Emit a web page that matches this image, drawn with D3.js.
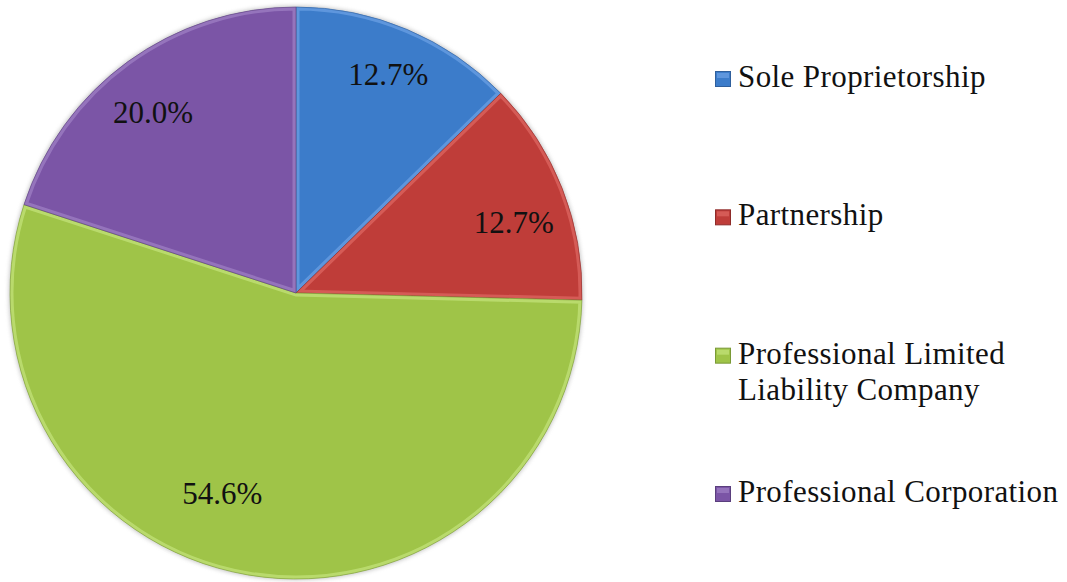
<!DOCTYPE html>
<html>
<head>
<meta charset="utf-8">
<script src="https://cdn.jsdelivr.net/npm/d3@7"></script>
<style>
  html, body { margin: 0; padding: 0; background: #fff; }
</style>
</head>
<body>
<div id="chart"></div>
<script>
const categories = ["Sole Proprietorship", "Partnership", "Professional Limited Liability Company", "Professional Corporation"];
const legendLines = [["Sole Proprietorship"], ["Partnership"], ["Professional Limited", "Liability Company"], ["Professional Corporation"]];
const values = [12.7, 12.7, 54.6, 20.0];
const valueLabels = ["12.7%", "12.7%", "54.6%", "20.0%"];

const width = 1067;
const height = 582;
const fillColors = ["#3c7cca", "#bf3d39", "#9fc448", "#7b55a6"];
const lightColors = ["#75a9ea", "#e4706b", "#cbe985", "#a688cc"];
const darkColors = ["#2f5f9c", "#8e2c2a", "#7a9a36", "#5a3f7d"];
const textColor = "#111";
const serif = '"Liberation Serif"';

const svg = d3.select("#chart").append("svg")
  .attr("width", width)
  .attr("height", height);

const cx = 296, cy = 293, radius = 286;
const g = svg.append("g").attr("transform", `translate(${cx},${cy})`);

const pie = d3.pie().sort(null).value(d => d);
const arcs = pie(values);
const arc = d3.arc().innerRadius(0).outerRadius(radius);

const defs = svg.append("defs");
arcs.forEach((a, i) => {
  defs.append("clipPath").attr("id", "clip" + i)
    .append("path").attr("d", arc(a));
});

// soft shadow behind the pie
defs.append("filter").attr("id", "shadow").attr("x", "-10%").attr("y", "-10%").attr("width", "120%").attr("height", "120%")
  .append("feGaussianBlur").attr("stdDeviation", 2);
g.append("circle").attr("r", radius + 1).attr("fill", "#888").attr("opacity", 0.5).attr("filter", "url(#shadow)");

const slices = g.selectAll("g.slice").data(arcs).enter().append("g").attr("class", "slice");
slices.append("path")
  .attr("d", arc)
  .attr("fill", (d, i) => fillColors[i]);
// bevel: light inner border
slices.append("path")
  .attr("d", arc)
  .attr("fill", "none")
  .attr("stroke", (d, i) => lightColors[i])
  .attr("stroke-width", 7)
  .attr("stroke-linejoin", "round")
  .attr("opacity", 0.6)
  .attr("clip-path", (d, i) => `url(#clip${i})`);
slices.append("path")
  .attr("d", arc)
  .attr("fill", "none")
  .attr("stroke", (d, i) => darkColors[i])
  .attr("stroke-width", 1)
  .attr("opacity", 0.6);

// data labels ("best fit" nudges: degrees, px)
const labelR = 230;
const labelAdjust = [[0, 7.5], [3.5, -1], [10.4, -16], [-2.4, 0]];
slices.append("text")
  .attr("transform", (d, i) => {
    const a = (d.startAngle + d.endAngle) / 2 + labelAdjust[i][0] * Math.PI / 180;
    const r = labelR + labelAdjust[i][1];
    return `translate(${Math.sin(a) * r},${-Math.cos(a) * r})`;
  })
  .attr("text-anchor", "middle")
  .attr("dy", "0.34em")
  .style("font-family", serif)
  .attr("font-size", "31px")
  .attr("fill", textColor)
  .text((d, i) => valueLabels[i]);

// legend
const legendY = d3.scalePoint().domain(categories).range([87, 502]);
const legend = svg.append("g");
categories.forEach((c, i) => {
  const y = legendY(c);
  const row = legend.append("g").attr("transform", `translate(715,${y})`);
  row.append("rect")
    .attr("x", 0.5).attr("y", -15.5).attr("width", 15).attr("height", 15)
    .attr("fill", fillColors[i])
    .attr("stroke", darkColors[i]).attr("stroke-width", 1);
  row.append("rect")
    .attr("x", 2).attr("y", -14).attr("width", 12).attr("height", 5)
    .attr("fill", lightColors[i]).attr("opacity", 0.6);
  const t = row.append("text")
    .attr("x", 23).attr("y", 0)
    .style("font-family", serif)
    .style("letter-spacing", "0.4px")
    .attr("font-size", "31px")
    .attr("fill", textColor);
  legendLines[i].forEach((line, j) => {
    t.append("tspan").attr("x", 23).attr("dy", j === 0 ? 0 : 36.7).text(line);
  });
});
</script>
</body>
</html>
